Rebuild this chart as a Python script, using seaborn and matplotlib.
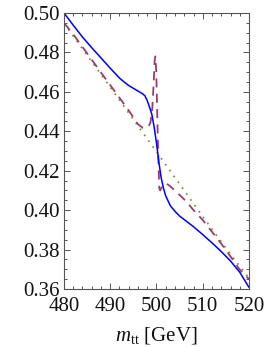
import numpy as np
import pandas as pd
import matplotlib
matplotlib.use("Agg")
import matplotlib.pyplot as plt
from matplotlib.ticker import MultipleLocator
import seaborn as sns

# Blue solid curve
blue_x = [480, 482, 484, 486, 488, 490, 492, 493, 494, 495, 496, 497, 497.5, 498, 498.5,
          499, 499.5, 500, 500.5, 501, 501.5, 502, 503, 504, 505, 506, 508, 510, 512, 514,
          516, 518, 520]
blue_y = [0.500, 0.4938, 0.4878, 0.4824, 0.4772, 0.4720, 0.4670, 0.4650, 0.4632, 0.4618,
          0.4604, 0.4590, 0.4580, 0.4555, 0.4522, 0.4485, 0.4420, 0.4340, 0.4245, 0.4165,
          0.4112, 0.4072, 0.4022, 0.3994, 0.3970, 0.3952, 0.3916, 0.3876, 0.3834, 0.3790,
          0.3742, 0.3685, 0.3608]

# Purple dashed curve
purple_x = [480, 482, 484, 486, 488, 490, 492, 494, 496, 497, 497.7, 498.3, 498.7, 499.1,
            499.4, 499.6, 499.75, 499.95, 500.15, 500.35, 500.6, 500.8, 501.3, 501.8, 502.5,
            503.5, 505, 506.5, 508, 510, 512, 514, 516, 518, 520]
purple_y = [0.4950, 0.4892, 0.4828, 0.4763, 0.4698, 0.4634, 0.4570, 0.4505, 0.4436, 0.4418,
            0.4420, 0.4425, 0.4445, 0.4520, 0.4650, 0.4760, 0.4780, 0.4700, 0.4500, 0.4300,
            0.4110, 0.4100, 0.4125, 0.4135, 0.4130, 0.4110, 0.4077, 0.4043, 0.4000, 0.3950,
            0.3890, 0.3830, 0.3765, 0.3698, 0.3650]

# Olive dotted curve
olive_x = [480, 485, 490, 495, 500, 505, 510, 515, 520]
olive_y = [0.4948, 0.4786, 0.4624, 0.4460, 0.4296, 0.4132, 0.3968, 0.3808, 0.3654]

sns.set_style("ticks")
plt.rcParams["font.family"] = ["Liberation Serif", "DejaVu Serif"]
plt.rcParams["mathtext.fontset"] = "custom"
plt.rcParams["mathtext.rm"] = "Liberation Serif"
plt.rcParams["mathtext.it"] = "Liberation Serif:italic"

fig = plt.figure(figsize=(2.64, 3.47), dpi=100)
ax = fig.add_axes([0.2424, 0.1671, 0.7008, 0.7954])

df_b = pd.DataFrame({"x": blue_x, "y": blue_y})
df_p = pd.DataFrame({"x": purple_x, "y": purple_y})
df_o = pd.DataFrame({"x": olive_x, "y": olive_y})

sns.lineplot(data=df_o, x="x", y="y", ax=ax, color="#998b3d", lw=1.3,
             linestyle=(0, (1.0, 3.0)), estimator=None, sort=False)
sns.lineplot(data=df_p, x="x", y="y", ax=ax, color="#993d71", lw=1.3,
             linestyle=(0, (5.0, 3.5)), estimator=None, sort=False)
sns.lineplot(data=df_b, x="x", y="y", ax=ax, color="#0000ff", lw=1.1,
             estimator=None, sort=False)

ax.set_xlim(480, 520)
ax.set_ylim(0.36, 0.50)
ax.xaxis.set_major_locator(MultipleLocator(10))
ax.xaxis.set_minor_locator(MultipleLocator(2))
ax.yaxis.set_major_locator(MultipleLocator(0.02))
ax.yaxis.set_minor_locator(MultipleLocator(0.005))
ax.yaxis.set_major_formatter(matplotlib.ticker.FormatStrFormatter("%.2f"))

ax.tick_params(which="both", direction="in", top=True, right=True, colors="#555555",
               labelcolor="#111111", width=0.7)
ax.tick_params(which="major", length=4.5, labelsize=15)
ax.tick_params(axis="y", which="major", pad=3)
ax.tick_params(axis="x", which="major", pad=6)
ax.tick_params(which="minor", length=2.5)
for s in ax.spines.values():
    s.set_color("#555555")
    s.set_linewidth(0.8)

ax.set_ylabel("")
ax.set_xlabel(r"$m_{\mathrm{tt}}$ [GeV]", fontsize=15, color="#111111", labelpad=6)

fig.savefig("out.png", dpi=100)
